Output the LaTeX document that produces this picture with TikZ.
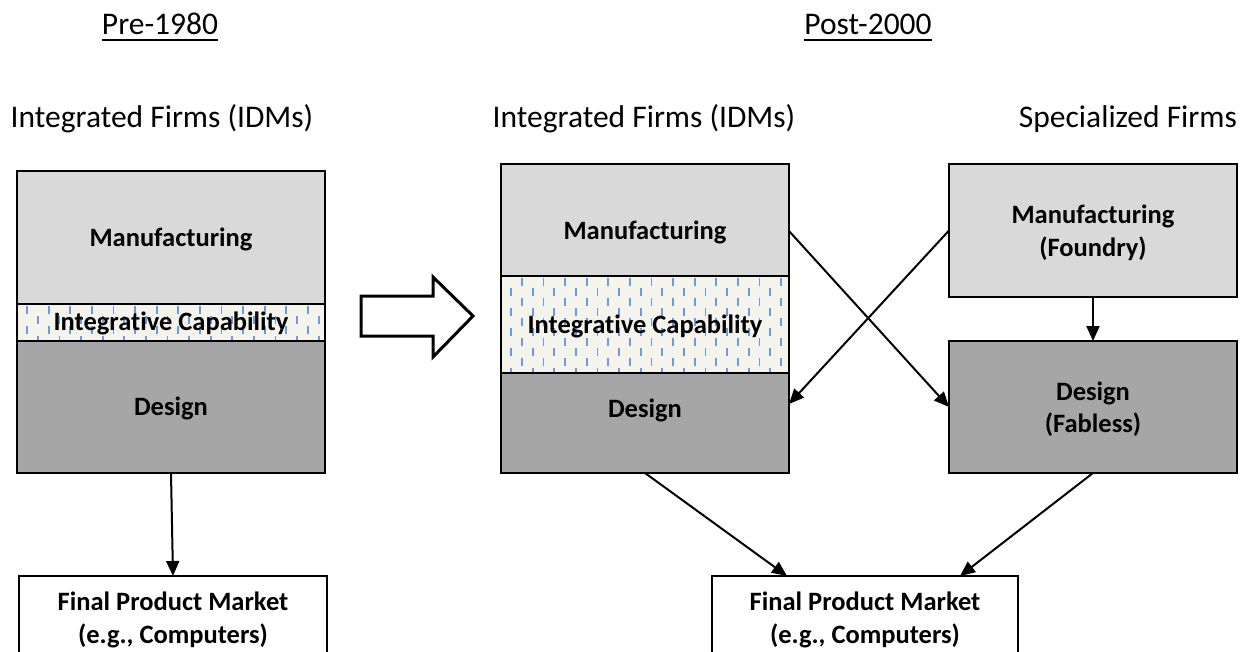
\documentclass[tikz,border=0pt]{standalone}
\usepackage{fontspec}
\setmainfont{Carlito}[Ligatures={NoCommon}]
\usetikzlibrary{arrows.meta,calc}
\definecolor{mfill}{RGB}{217,217,217}
\definecolor{dfill}{RGB}{166,166,166}
\definecolor{ifill}{RGB}{244,243,236}
\definecolor{dashblue}{RGB}{105,155,225}
\newcommand\hdrfont{\fontsize{31.5}{38}\selectfont}
\newcommand\lblfont{\fontsize{26.5}{32.5}\selectfont\bfseries}
\tikzset{
  boxbase/.style={draw=black, line width=2.2pt, inner sep=0pt, outer sep=0pt, minimum width=#1},
  mbox/.style={boxbase=#1, fill=mfill},
  dbox/.style={boxbase=#1, fill=dfill},
  ibox/.style={boxbase=#1, fill=ifill},
  fbox/.style={boxbase=#1, fill=white},
  hdr/.style={inner sep=0pt, anchor=base, font=\hdrfont},
  lbl/.style={inner sep=0pt, align=center, font=\lblfont},
  conn/.style={draw=black, line width=2pt, -{Triangle[length=15pt,width=13pt]}},
  patdash/.style={draw=dashblue, line width=1.8pt},
  bigarrow/.style={draw=black, line width=3pt, line join=miter, fill=white},
  uline/.style={draw=black, line width=2pt}
}
\begin{document}
\begin{tikzpicture}[x=1pt,y=-1pt]
\clip (0,0) rectangle (1240,651);
\fill[white] (0,0) rectangle (1240,651);

% headers
\node[hdr] (pre) at (160,34) {Pre-1980};
\draw[uline] ($(pre.base west)+(0,6)$) coordinate (preA) -- ($(pre.base east)+(0,6)$) coordinate (preB);
\node[hdr] (post) at (868,34) {Post-2000};
\draw[uline] ($(post.base west)+(0,6)$) coordinate (postA) -- ($(post.base east)+(0,6)$) coordinate (postB);
\node[hdr] (hleft) at (162,127) {Integrated Firms (IDMs)};
\node[hdr] (hmid) at (644,127) {Integrated Firms (IDMs)};
\node[hdr] (hright) at (1128,127) {Specialized Firms};

% left column
\node[mbox=308pt, minimum height=133pt] (lman) at (171,237.5) {};
\node[ibox=308pt, minimum height=37pt] (lint) at (171,322.5) {};
\node[dbox=308pt, minimum height=132pt] (ldes) at (171,407) {};

% middle column
\node[mbox=288pt, minimum height=112pt] (mman) at (645,220) {};
\node[ibox=288pt, minimum height=97pt] (mint) at (645,324.5) {};
\node[dbox=288pt, minimum height=100pt] (mdes) at (645,423) {};

% right column
\node[mbox=288pt, minimum height=133pt] (fman) at (1093,230.5) {};
\node[dbox=288pt, minimum height=132pt] (fdes) at (1093,407) {};

% final product markets
\node[fbox=308pt, minimum height=86pt] (lfin) at (173,619) {};
\node[fbox=306pt, minimum height=86pt] (rfin) at (865,619) {};

% patterns
\begin{scope}
\clip (18.1,305.1) rectangle (323.9,339.9);
\foreach \i in {0,...,29}{
  \pgfmathsetmacro\px{27+10.8*\i}
  \pgfmathsetmacro\py{286+10*mod(\i,2)}
  \foreach \j in {0,...,3}{
    \draw[patdash] (\px,\py+20*\j) -- ++(0,8);
  }
}
\end{scope}
\begin{scope}
\clip (502.1,277.1) rectangle (787.9,371.9);
\foreach \i in {0,...,27}{
  \pgfmathsetmacro\px{511+10.8*\i}
  \pgfmathsetmacro\py{268+10*mod(\i,2)}
  \foreach \j in {0,...,6}{
    \draw[patdash] (\px,\py+20*\j) -- ++(0,8);
  }
}
\end{scope}

% labels
\node[lbl] (tlman) at (171,239) {Manufacturing};
\node[lbl] (tlint) at (171,323) {Integrative Capability};
\node[lbl] (tldes) at (171,408) {Design};
\node[lbl] (tmman) at (645,232) {Manufacturing};
\node[lbl] (tmint) at (645,326) {Integrative Capability};
\node[lbl] (tmdes) at (645,410) {Design};
\node[lbl] (tfman) at (1093,233) {Manufacturing\\(Foundry)};
\node[lbl] (tfdes) at (1093,409) {Design\\(Fabless)};
\node[lbl] (tlfin) at (173,620) {Final Product Market\\(e.g., Computers)};
\node[lbl] (trfin) at (865,620) {Final Product Market\\(e.g., Computers)};

% big hollow arrow
\draw[bigarrow] (361,296) -- (433,296) -- (433,277) -- (473,316) -- (433,357) -- (433,336) -- (361,336) -- cycle;

% connectors
\draw[conn] (ldes.south) -- (lfin.north);
\draw[conn] ([yshift=-11pt]mman.east) -- (fdes.west);
\draw[conn] (fman.west) -- ([yshift=19pt]mdes.east);
\draw[conn] (fman.south) -- (fdes.north);
\draw[conn] (mdes.south) -- ([xshift=-78pt]rfin.north);
\draw[conn] (fdes.south) -- ([xshift=95pt]rfin.north);
\end{tikzpicture}
\end{document}
